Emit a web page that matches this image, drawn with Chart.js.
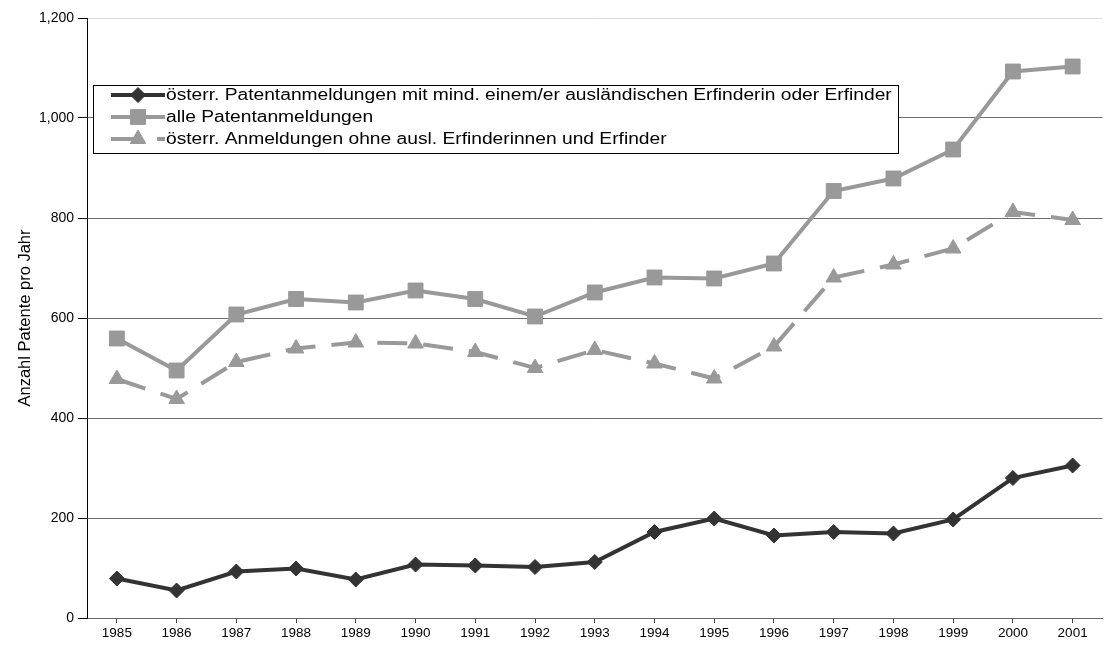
<!DOCTYPE html>
<html>
<head>
<meta charset="utf-8">
<title>Patentanmeldungen 1985-2001</title>
<script src="https://cdn.jsdelivr.net/npm/chart.js@4.4.0/dist/chart.umd.min.js"></script>
<style>
  html, body { margin: 0; padding: 0; background: #fff; overflow: hidden; }
  #wrap { width: 1114px; height: 647px; }
</style>
</head>
<body>
<div id="wrap"><canvas id="patente" width="1114" height="647"></canvas></div>
<script>
// Jahre und Anzahl der Patentanmeldungen
const jahre = ['1985', '1986', '1987', '1988', '1989', '1990', '1991', '1992', '1993',
               '1994', '1995', '1996', '1997', '1998', '1999', '2000', '2001'];
const mitAuslErfinder = [79, 55, 93, 99, 77, 107, 105, 102, 112, 172, 199, 165, 172, 169, 197, 280, 305];
const allePatente = [559, 495, 607, 638, 631, 655, 638, 603, 651, 681, 679, 709, 854, 879, 937, 1093, 1103];
const ohneAuslErfinder = [478, 438, 512, 539, 551, 549, 532, 500, 536, 509, 479, 543, 681, 707, 739, 812, 796];
const yMax = 1200;
const yStep = 200;

const dunkel = '#333333';
const grau = '#999999';

Chart.defaults.font.family = '"Liberation Sans", Arial, sans-serif';
Chart.defaults.color = '#000';

// Legende als Kasten innerhalb der Zeichenfläche
const legendeKasten = {
    id: 'legendeKasten',
    afterDraw(chart) {
        const ctx = chart.ctx;
        const x = 93, y = 85, w = 805, h = 68;
        const zeilen = [95, 117, 139];

        ctx.save();
        ctx.fillStyle = '#fff';
        ctx.fillRect(x, y, w, h);
        ctx.strokeStyle = '#000';
        ctx.lineWidth = 1;
        ctx.strokeRect(x + 0.5, y + 0.5, w, h);

        chart.data.datasets.forEach((ds, i) => {
            const zy = zeilen[i];
            ctx.strokeStyle = ds.borderColor;
            ctx.lineWidth = ds.borderWidth;
            ctx.setLineDash(ds.borderDash || []);
            ctx.beginPath();
            ctx.moveTo(111, zy);
            ctx.lineTo(165, zy);
            ctx.stroke();
            ctx.setLineDash([]);

            ctx.fillStyle = ds.backgroundColor;
            ctx.lineWidth = 1;
            Chart.helpers.drawPoint(ctx, {
                pointStyle: ds.pointStyle,
                radius: ds.pointRadius,
                rotation: 0,
                borderWidth: 1
            }, 138, zy);

            // Schrift leicht in die Breite gezogen
            ctx.save();
            ctx.translate(166, zy);
            ctx.scale(1.2, 1);
            ctx.fillStyle = '#000';
            ctx.font = '16px "Liberation Sans", Arial, sans-serif';
            ctx.textBaseline = 'middle';
            ctx.fillText(ds.label, 0, 1);
            ctx.restore();
        });
        ctx.restore();
    }
};

new Chart(document.getElementById('patente'), {
    type: 'line',
    data: {
        labels: jahre,
        datasets: [
            {
                label: 'österr. Patentanmeldungen mit mind. einem/er ausländischen Erfinderin oder Erfinder',
                data: mitAuslErfinder,
                borderColor: dunkel,
                backgroundColor: dunkel,
                borderWidth: 4,
                pointStyle: 'rectRot',
                pointRadius: 7.5,
                pointBorderWidth: 1
            },
            {
                label: 'alle Patentanmeldungen',
                data: allePatente,
                borderColor: grau,
                backgroundColor: grau,
                borderWidth: 4,
                pointStyle: 'rect',
                pointRadius: 10.5,
                pointBorderWidth: 1
            },
            {
                label: 'österr. Anmeldungen ohne ausl. Erfinderinnen und Erfinder',
                data: ohneAuslErfinder,
                borderColor: grau,
                backgroundColor: grau,
                borderWidth: 4,
                borderDash: [30, 16],
                pointStyle: 'triangle',
                pointRadius: 9,
                pointBorderWidth: 1
            }
        ]
    },
    options: {
        responsive: false,
        animation: false,
        layout: { padding: { top: 18, right: 1, left: 0, bottom: 0 } },
        plugins: {
            legend: { display: false },
            tooltip: { enabled: false }
        },
        scales: {
            x: {
                offset: true,
                grid: {
                    display: true,
                    drawOnChartArea: false,
                    tickLength: 5,
                    tickColor: '#444'
                },
                border: { color: '#666', width: 1 },
                ticks: {
                    font: { size: 13.5 },
                    color: '#000',
                    padding: 2,
                    maxRotation: 0
                },
                afterFit(scale) { scale.height = 29; }
            },
            y: {
                min: 0,
                max: yMax,
                ticks: {
                    stepSize: yStep,
                    font: { size: 14 },
                    color: '#000',
                    padding: 4,
                    callback: v => v.toLocaleString('en-US')
                },
                grid: {
                    color: ctx => ctx.tick && ctx.tick.value === yMax ? '#dedede' : '#6e6e6e',
                    tickColor: '#000',
                    tickLength: 9
                },
                border: { color: '#000', width: 1 },
                title: {
                    display: true,
                    text: 'Anzahl Patente pro Jahr',
                    font: { size: 16.5 },
                    color: '#000',
                    padding: { top: 16, bottom: 0 }
                },
                afterFit(scale) { scale.width = 87; }
            }
        }
    },
    plugins: [legendeKasten]
});
</script>
</body>
</html>
